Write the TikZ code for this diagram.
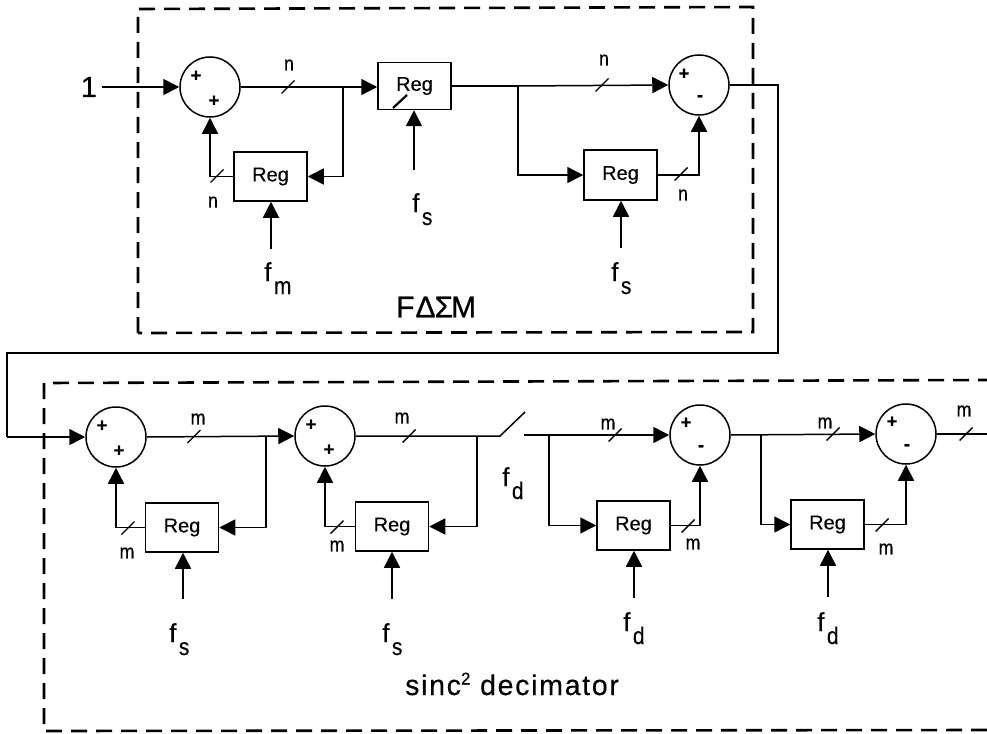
\documentclass[tikz,border=0pt]{standalone}
\usepackage{fontspec}
\setmainfont{Liberation Sans}[FakeBold=0.35]
\usepackage{graphicx}
\usetikzlibrary{arrows.meta}
\newcommand{\tallglyph}[1]{\scalebox{1.05}[1.2]{#1}}
\newcommand{\fsub}[1]{f\kern2.5pt\raisebox{-13pt}{\fontsize{20}{20}\selectfont\tallglyph{#1}}}
\tikzset{
  sumnode/.style={circle,draw,line width=1.5pt,minimum size=60pt,inner sep=0pt,fill=white},
  regbox/.style={rectangle,draw,line width=1.5pt,minimum width=73pt,minimum height=49pt,inner sep=0pt,font=\fontsize{20}{20}\selectfont},
  wire/.style={line width=1.5pt},
  flow/.style={line width=1.5pt,-{Triangle[length=16pt,width=16pt]}},
  frame/.style={line width=2.6pt,dash pattern=on 16pt off 9pt},
  tick/.style={line width=1.4pt},
  sign/.style={font=\bfseries\fontsize{18}{18}\selectfont,inner sep=0pt},
  width/.style={font=\fontsize{17}{17}\selectfont,inner sep=0pt},
  clock/.style={font=\fontsize{26}{26}\selectfont,inner sep=0pt,anchor=base west},
  bigtext/.style={inner sep=0pt}
}
\newcommand{\tickmark}[2]{\draw[tick] (#1-6.5,#2+6.5) -- (#1+6.5,#2-6.5);}
\begin{document}
\begin{tikzpicture}[x=1pt,y=-1pt]
\useasboundingbox (0,0) rectangle (987,733);
\fill[white] (0,0) rectangle (987,733);
\clip (0,0) rectangle (987,733);
% frames
\draw[frame] (138,333) -- (138,9) -- (753,7) -- (753,332) -- cycle;
\draw[frame] (987,730) -- (44,731) -- (44,383) -- (987,380);
% top row nodes
\node[sumnode] (s1) at (210,87) {};
\node[regbox,minimum height=47pt] (r2) at (414.5,86) {Reg};
\node[regbox] (r1) at (270.5,176.5) {Reg};
\node[sumnode] (s3) at (699,85) {};
\node[regbox,minimum height=50pt] (r3) at (620.5,175) {Reg};
% bottom row nodes
\node[sumnode] (s4) at (116,437) {};
\node[sumnode] (s5) at (325,436) {};
\node[sumnode] (s6) at (700,435) {};
\node[sumnode] (s7) at (906,434) {};
\node[regbox] (r4) at (182,527.5) {Reg};
\node[regbox] (r5) at (392,526.5) {Reg};
\node[regbox] (r6) at (633.5,525.5) {Reg};
\node[regbox] (r7) at (827.5,524.5) {Reg};
% free ends
\coordinate (in) at (102,87);
\coordinate (b1) at (343,87);
\coordinate (b2) at (518,86);
\coordinate (c1) at (271,249);
\coordinate (c2) at (414,170);
\coordinate (c3) at (621,248);
\coordinate (t1) at (778,85);
\coordinate (t2) at (778,353);
\coordinate (t3) at (7,353);
\coordinate (t4) at (7,437);
\coordinate (b3) at (266,437);
\coordinate (b4) at (477,436);
\coordinate (sw1) at (500,436);
\coordinate (sw2) at (525,412);
\coordinate (sw3) at (524,435);
\coordinate (b5) at (549,435);
\coordinate (b6) at (761,434.5);
\coordinate (c4) at (183,599);
\coordinate (c5) at (392,599);
\coordinate (c6) at (634,598);
\coordinate (c7) at (828,597);
\coordinate (out) at (987,434);
% top connectors
\draw[flow] (in) -- (s1.west);
\draw[flow] (s1.east) -- (s1.east -| r2.west);
\draw[wire] (b1) |- (b1 |- r1.east);
\draw[flow] (b1 |- r1.east) -- (r1.east);
\draw[flow] (r1.west) -| (s1.south);
\draw[wire] (r2.east) -- (b2);
\draw[flow] (b2) -- (s3.west);
\draw[flow] (b2) |- (r3.west);
\draw[flow] (r3.east) -| (s3.south);
\draw[flow] (c1) -- (r1.south -| c1);
\draw[flow] (c2) -- (r2.south -| c2);
\draw[flow] (c3) -- (r3.south -| c3);
\draw[wire] (s3.east) -- (t1) -- (t2) -- (t3) -- (t4);
\draw[flow] (t4) -- (s4.west);
% bottom connectors
\draw[flow] (s4.east) -- (s5.west);
\draw[flow] (b3) |- (r4.east);
\draw[flow] (r4.west) -| (s4.south);
\draw[wire] (s5.east) -- (sw1) -- (sw2);
\draw[flow] (b4) |- (r5.east);
\draw[flow] (r5.west) -| (s5.south);
\draw[flow] (sw3) -- (s6.west);
\draw[flow] (b5) |- (r6.west);
\draw[flow] (r6.east) -| (s6.south);
\draw[flow] (s6.east) -- (s7.west);
\draw[flow] (b6) |- (r7.west);
\draw[flow] (r7.east) -| (s7.south);
\draw[wire] (s7.east) -- (out);
\draw[flow] (c4) -- (r4.south -| c4);
\draw[flow] (c5) -- (r5.south -| c5);
\draw[flow] (c6) -- (r6.south -| c6);
\draw[flow] (c7) -- (r7.south -| c7);
% tick marks
\tickmark{288}{87}\tickmark{217}{176}
\draw[tick,line width=2.2pt] (393,108) -- (407,95);
\tickmark{602}{85}\tickmark{681}{174}
\tickmark{194}{436.5}\tickmark{128}{528}\tickmark{409}{436}\tickmark{337}{527}
\tickmark{615}{435}\tickmark{688}{526}\tickmark{833}{434}\tickmark{882}{525}\tickmark{966}{434}
% signs
\node[sign] (p1) at (196,76) {+};\node[sign] (p2) at (214,101) {+};
\node[sign] (p3) at (684,74) {+};\node[sign] (m3) at (700,98) {-};
\node[sign] (p4) at (102,426) {+};\node[sign] (p5) at (119,451) {+};
\node[sign] (p6) at (311,425) {+};\node[sign] (p7) at (329,450) {+};
\node[sign] (p8) at (686,423) {+};\node[sign] (m6) at (701,448) {-};
\node[sign] (p9) at (892,422) {+};\node[sign] (m7) at (907,447) {-};
% width labels
\node[width] (n1) at (289,65) {\tallglyph{n}};\node[width] (n2) at (213,202) {\tallglyph{n}};
\node[width] (n3) at (604,60) {\tallglyph{n}};\node[width] (n4) at (683,195) {\tallglyph{n}};
\node[width] (m1) at (198,419) {\tallglyph{m}};\node[width] (m2) at (127,553) {\tallglyph{m}};
\node[width] (m4) at (402,418) {\tallglyph{m}};\node[width] (m5) at (337,546) {\tallglyph{m}};
\node[width] (m8) at (608,424) {\tallglyph{m}};\node[width] (m9) at (693,544) {\tallglyph{m}};
\node[width] (m10) at (825,423) {\tallglyph{m}};\node[width] (m11) at (886,549) {\tallglyph{m}};
\node[width] (m12) at (964,411) {\tallglyph{m}};
% clock labels
\node[clock] (f1) at (264,281) {\fsub{m}};
\node[clock] (f2) at (412,212) {\fsub{s}};
\node[clock] (f3) at (611,281) {\fsub{s}};
\node[clock] (f4) at (169,642) {\fsub{s}};
\node[clock] (f5) at (382,642) {\fsub{s}};
\node[clock] (f6) at (623,631) {\fsub{d}};
\node[clock] (f7) at (817,631) {\fsub{d}};
\node[clock] (f8) at (502,486) {\fsub{d}};
% big text
\node[bigtext,font=\fontsize{29}{29}\selectfont] (one) at (89,87) {1};
\node[bigtext,anchor=west] (ttl1) at (396,307) {\fontspec{Liberation Sans}[FakeBold=0.8]\fontsize{30}{30}\selectfont F\kern1pt Δ\kern-1pt Σ\kern-2pt M};
\node[bigtext,anchor=base west] (ttl2) at (405,695) {\fontspec{Liberation Sans}[LetterSpace=6,FakeBold=0.35]\fontsize{28.5}{28.5}\selectfont sinc\raisebox{10.5pt}{\fontsize{17}{17}\selectfont 2} decimator};
\end{tikzpicture}
\end{document}
